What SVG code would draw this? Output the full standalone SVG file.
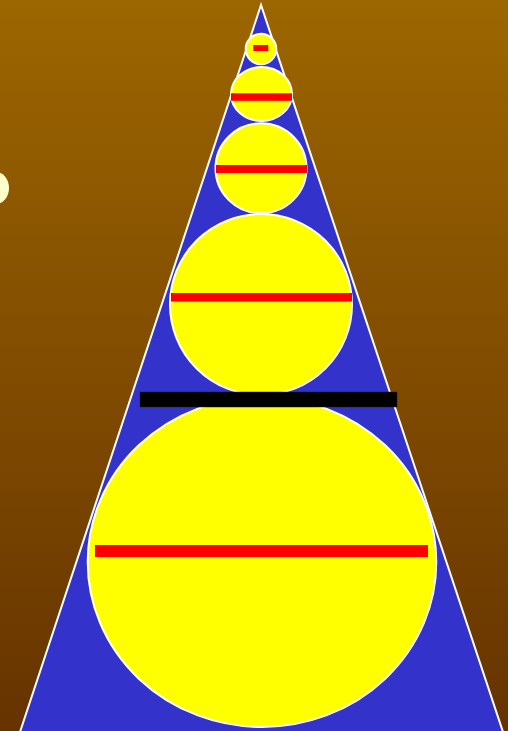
<svg xmlns="http://www.w3.org/2000/svg" width="508" height="731" viewBox="0 0 508 731">
<defs>
<linearGradient id="bg" x1="0" y1="0" x2="0" y2="1">
<stop offset="0" stop-color="#9c6600"/>
<stop offset="1" stop-color="#663300"/>
</linearGradient>
<style>
.c{fill:#ffff00;stroke:#ffffff;stroke-width:2}
.r{fill:#ff0000}
</style>
</defs>
<rect x="0" y="0" width="508" height="731" fill="url(#bg)"/>
<ellipse cx="-4" cy="188" rx="13" ry="16" fill="#ffffcc"/>
<g id="triangle">
<polygon points="261,5 20,732 503,732" fill="#3333cc" stroke="#ffffff" stroke-width="2"/>
</g>
<g id="circle5">
<ellipse class="c" cx="262" cy="562" rx="174.3" ry="165"/>
<rect class="r" x="95" y="545" width="333" height="12"/>
</g>
<g id="circle4">
<ellipse class="c" cx="261" cy="304.5" rx="91" ry="90.5"/>
<rect class="r" x="171" y="293" width="181" height="8.5"/>
</g>
<g id="circle3">
<ellipse class="c" cx="261" cy="168.3" rx="45.5" ry="45"/>
<rect class="r" x="216" y="165" width="91" height="8"/>
</g>
<g id="circle2">
<ellipse class="c" cx="261.5" cy="94" rx="30.5" ry="27"/>
<rect class="r" x="231" y="93.3" width="61" height="7.5"/>
</g>
<g id="circle1">
<circle class="c" cx="261" cy="49" r="15.3"/>
<rect class="r" x="253.3" y="45" width="15" height="6"/>
</g>
<g id="bar">
<rect x="140" y="392" width="257" height="15" fill="#000000" stroke="#222222" stroke-width="0.5"/>
</g>
<g id="connectors"/>
</svg>
